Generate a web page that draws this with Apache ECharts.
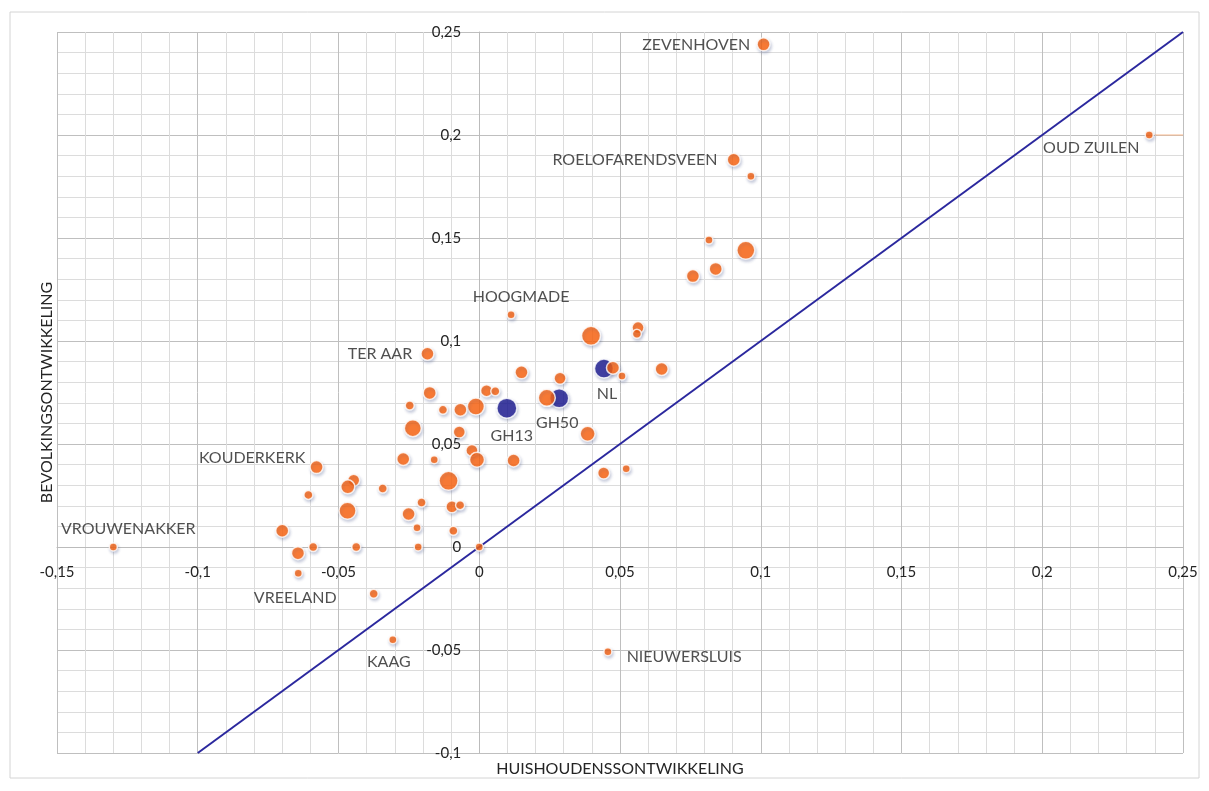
<!DOCTYPE html>
<html>
<head>
<meta charset="utf-8">
<script src="https://cdn.jsdelivr.net/npm/echarts@6/dist/echarts.min.js"></script>
<style>
html,body{margin:0;padding:0;background:#fff;}
#chart{width:1209px;height:791px;}
</style>
</head>
<body>
<div id="chart"></div>
<script>
// ---- data ----
const xTickValues = [-0.15, -0.1, -0.05, 0, 0.05, 0.1, 0.15, 0.2, 0.25];
const yTickValues = [-0.1, -0.05, 0, 0.05, 0.1, 0.15, 0.2, 0.25];

const orangeNames = ['ZEVENHOVEN','ROELOFARENDSVEEN','','OUD ZUILEN','','','','','HOOGMADE','','','','TER AAR','','','','','','','','','','','','','','','','','','','','','','','','','KOUDERKERK','','','','','','','','','','','','','','','','','','VREELAND','','KAAG','VROUWENAKKER','NIEUWERSLUIS'];
const orangeX = [0.101,0.0904,0.0965,0.238,0.0816,0.0947,0.0759,0.084,0.0113,0.0397,0.0564,0.056,-0.0184,0.0475,0.0507,0.0648,0.015,0.0287,0.0026,0.0057,0.024,-0.0012,0.0385,0.0122,0.0442,0.0522,-0.0026,-0.0008,-0.0176,-0.0247,-0.0129,-0.0067,-0.0236,-0.0071,-0.027,-0.016,-0.0109,-0.0578,-0.0446,-0.0467,-0.0343,-0.0607,-0.0468,-0.0205,-0.0251,-0.0097,-0.0068,-0.0221,-0.0092,-0.070,-0.0644,-0.059,-0.0437,-0.0217,0.0,-0.0643,-0.0375,-0.0307,-0.130,0.0457];
const orangeY = [0.244,0.188,0.180,0.200,0.149,0.144,0.1315,0.135,0.1127,0.1025,0.1065,0.1035,0.0938,0.087,0.083,0.0864,0.0848,0.0819,0.0759,0.0756,0.0724,0.0682,0.055,0.042,0.0359,0.038,0.0469,0.0424,0.0748,0.0687,0.0666,0.0666,0.0577,0.0558,0.0427,0.0424,0.0321,0.0388,0.0324,0.0292,0.0284,0.0253,0.0176,0.0216,0.016,0.0195,0.0203,0.0093,0.0079,0.0079,-0.003,0.0,0.0,0.0,0.0,-0.0127,-0.0227,-0.045,0.0,-0.0508];
const orangeSize = [13,13,8,8,8,18,13,13,8,19,12,9,13,13,8,13,13,12,12,9,17,17,15,13,12,8,12,15,13,9,9,13,17,12,13,8,19,13,12,14,9,9,17,9,13,12,9,8,9,13,13,9,9,8,8,8,9,8,8,8];

const blueNames = ['GH13','GH50','NL'];
const blueX = [0.0098,0.0284,0.0443];
const blueY = [0.0674,0.0722,0.0866];
const blueSize = [20,19,19];

const diagX = [-0.1, 0.25];
const diagY = [-0.1, 0.25];
const zuilenLineX = [0.24, 0.25];
const zuilenLineY = [0.2, 0.2];

const xAxisTitle = 'HUISHOUDENSSONTWIKKELING';
const yAxisTitle = 'BEVOLKINGSONTWIKKELING';

// ---- layout / style ----
const W = 1209, H = 791;
const G = { left: 57, right: 26, top: 32, bottom: 38 };
const xMin = xTickValues[0], xMax = xTickValues[xTickValues.length - 1];
const yMin = yTickValues[0], yMax = yTickValues[yTickValues.length - 1];
const plotW = W - G.left - G.right, plotH = H - G.top - G.bottom;
// shift axes so they cross at value 0 (like Excel "axis crosses at 0")
const xAxisOffset = -plotH * (0 - yMin) / (yMax - yMin);
const yAxisOffset = -plotW * (0 - xMin) / (xMax - xMin);

const labelCfg = {
  'ZEVENHOVEN': {position:'left', distance:6},
  'ROELOFARENDSVEEN': {position:'left', distance:9},
  'OUD ZUILEN': {position:'left', distance:5, offset:[0,13]},
  'HOOGMADE': {position:'top', distance:5, offset:[10,0]},
  'TER AAR': {position:'left', distance:8},
  'KOUDERKERK': {position:'left', distance:4, offset:[0,-9]},
  'VROUWENAKKER': {position:'top', distance:5, offset:[15,0]},
  'VREELAND': {position:'bottom', distance:12, offset:[-3,0]},
  'KAAG': {position:'bottom', distance:9, offset:[-4,0]},
  'NIEUWERSLUIS': {position:'right', distance:14, offset:[0,5]},
  'NL': {position:'bottom', distance:7, offset:[3,0]},
  'GH50': {position:'bottom', distance:6, offset:[-2,0]},
  'GH13': {position:'bottom', distance:9, offset:[5,0]}
};

const FONT = 'Lato';
const TEXT = '#242424';
const ORANGE = '#FF630A';
const BLUE = '#1A1890';

function buildPoints(names, xs, ys, sizes) {
  return xs.map((x, i) => {
    const n = names[i];
    const item = { name: n, value: [x, ys[i]], symbolSize: sizes[i] };
    if (n && labelCfg[n]) {
      item.label = Object.assign({
        show: true, formatter: n, color: TEXT,
        fontFamily: FONT, fontSize: 16
      }, labelCfg[n]);
    }
    return item;
  });
}

const fmt = v => String(+(+v).toFixed(2)).replace('.', ',');

const itemStyleBase = {
  borderColor: '#ffffff', borderWidth: 1.5,
  shadowBlur: 3, shadowColor: 'rgba(40,60,120,0.28)', shadowOffsetX: 1, shadowOffsetY: 2
};

const chart = echarts.init(document.getElementById('chart'), null, {renderer: 'canvas'});
chart.setOption({
  animation: false,
  backgroundColor: '#ffffff',
  grid: { left: G.left, right: G.right, top: G.top, bottom: G.bottom, containLabel: false, outerBoundsMode: 'none' },
  graphic: [{
    type: 'rect', silent: true, z: -10,
    shape: { x: 10, y: 12, width: 1189, height: 766 },
    style: { fill: 'none', stroke: '#D4D4D4', lineWidth: 1 }
  }],
  xAxis: {
    type: 'value', min: xMin, max: xMax, interval: 0.05,
    position: 'bottom', offset: xAxisOffset,
    axisLine: { show: true, onZero: false, lineStyle: { color: '#BBBBBB', width: 1 } },
    axisTick: { show: false },
    axisLabel: { formatter: fmt, color: TEXT, fontFamily: FONT, fontSize: 15, margin: 18, showMinLabel: true, showMaxLabel: true },
    splitLine: { show: true, lineStyle: { color: '#BFBFBF', width: 1 } },
    minorTick: { show: false, splitNumber: 5 },
    minorSplitLine: { show: true, lineStyle: { color: '#DCDCDC', width: 1 } },
    name: xAxisTitle, nameLocation: 'middle', nameGap: 214,
    nameTextStyle: { color: TEXT, fontFamily: FONT, fontSize: 16 }
  },
  yAxis: {
    type: 'value', min: yMin, max: yMax, interval: 0.05,
    position: 'left', offset: yAxisOffset,
    axisLine: { show: true, onZero: false, lineStyle: { color: '#BBBBBB', width: 1 } },
    axisTick: { show: false },
    axisLabel: { formatter: fmt, color: TEXT, fontFamily: FONT, fontSize: 15, margin: 18, showMinLabel: true, showMaxLabel: true },
    splitLine: { show: true, lineStyle: { color: '#BFBFBF', width: 1 } },
    minorTick: { show: false, splitNumber: 5 },
    minorSplitLine: { show: true, lineStyle: { color: '#DCDCDC', width: 1 } },
    name: yAxisTitle, nameLocation: 'middle', nameGap: 424, nameRotate: 90,
    nameTextStyle: { color: TEXT, fontFamily: FONT, fontSize: 16 }
  },
  series: [
    {
      type: 'line', data: diagX.map((x, i) => [x, diagY[i]]),
      showSymbol: false, symbol: 'none', silent: true,
      lineStyle: { color: '#2B289E', width: 2 }, z: 1
    },
    {
      type: 'line', data: zuilenLineX.map((x, i) => [x, zuilenLineY[i]]),
      showSymbol: false, symbol: 'none', silent: true,
      lineStyle: { color: '#F8B88C', width: 1 }, z: 1
    },
    {
      type: 'scatter', data: buildPoints(blueNames, blueX, blueY, blueSize),
      itemStyle: Object.assign({ color: BLUE }, itemStyleBase), z: 2
    },
    {
      type: 'scatter', data: buildPoints(orangeNames, orangeX, orangeY, orangeSize),
      itemStyle: Object.assign({ color: ORANGE }, itemStyleBase), z: 3
    }
  ]
});
</script>
</body>
</html>
